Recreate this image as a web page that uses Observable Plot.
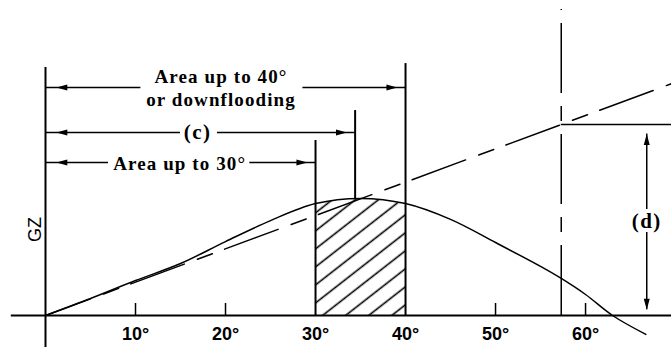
<!DOCTYPE html>
<html><head><meta charset="utf-8">
<script src="https://cdn.jsdelivr.net/npm/d3@7"></script>
<script src="https://cdn.jsdelivr.net/npm/@observablehq/plot@0.6"></script>
<style>
html,body{margin:0;padding:0;background:#fff;}
</style>
</head><body><div id="chart"></div>
<script>
// heel angle (degrees) and righting lever GZ (in units of GM)
const angles = [0, 5, 10, 15, 20, 25, 30, 35, 40, 45, 50, 55, 57.3, 60, 63, 66.7];
const gz     = [0, 0.089, 0.183, 0.272, 0.387, 0.497, 0.586, 0.613, 0.586, 0.503, 0.382, 0.257, 0.194, 0.110, 0, -0.099];
const tickValues = [10, 20, 30, 40, 50, 60];
const tickLabels = ["10°", "20°", "30°", "40°", "50°", "60°"];
const minorTicks = [10, 20, 50, 60];
const GM = 1.0;            // tangent at origin reaches GM at one radian
const radianDeg = 57.3;
const hatchFrom = 30, hatchTo = 40;
const peakAngle = 34.4;
const xMax = 69.55;

// dimension lines (angle span, level in GZ units, label, label centre, gap in line)
const dims = [
  {label: "Area up to 40°\nor downflooding", to: 40, level: 1.194, labelAt: 19.5, gap: [10.6, 28.6]},
  {label: "Area up to 30°", to: 30, level: 0.801, labelAt: 14.9, gap: [7.0, 22.7]}
];
const dimC = {label: "(c)", to: 34.4, level: 0.958, labelAt: 16.9, gap: [15.0, 19.1]};
const allDims = [...dims, dimC];

const curve = angles.map((a, i) => ({a, g: gz[i]}));
const hatch = curve.filter(d => d.a >= hatchFrom && d.a <= hatchTo);
const tangent = [{a: 0, g: 0}, {a: xMax, g: GM * xMax / radianDeg}];
const gzAt = (a) => { // value from curve table (neighbours, linear)
  for (let i = 1; i < curve.length; i++) if (curve[i].a >= a) {
    const p = curve[i-1], q = curve[i]; return p.g + (q.g - p.g) * (a - p.a) / (q.a - p.a);
  }
  return 0;
};

const segs = allDims.flatMap(d => [{x1: 0, x2: d.gap[0], y: d.level}, {x1: d.gap[1], x2: d.to, y: d.level}]);
const headsLeft = allDims.map(d => ({a: 1.2, g: d.level}));
const headsRight = allDims.map(d => ({a: d.to - 0.9, g: d.level}));
const dAngle = 66.8;

const head = {draw(ctx) { ctx.moveTo(0, 0); ctx.lineTo(-3, 11); ctx.lineTo(3, 11); ctx.closePath(); }};

const serif = "Liberation Serif, Times New Roman, serif";
const sans = "Liberation Sans, Arial, sans-serif";

const plot = Plot.plot({
  width: 671, height: 349,
  marginLeft: 45, marginRight: 0, marginTop: 0, marginBottom: 34,
  x: {domain: [0, xMax], axis: null},
  y: {domain: [0, 315 / 191], axis: null},
  style: {background: "#fff", color: "#000"},
  marks: [
    Plot.areaY(hatch, {x: "a", y: "g", fill: "url(#hatch)", curve: "catmull-rom"}),
    Plot.ruleY([0], {x1: -3.8, x2: xMax, strokeWidth: 2}),
    Plot.ruleX([0], {y1: -0.168, y2: 1.298, strokeWidth: 2}),
    Plot.ruleX(minorTicks, {y1: 0, y2: 0.063, strokeWidth: 1.5}),
    Plot.ruleX([hatchFrom], {y1: 0, y2: 0.916, strokeWidth: 2}),
    Plot.ruleX([hatchTo], {y1: 0, y2: 1.319, strokeWidth: 2}),
    Plot.ruleX([peakAngle], {y1: gzAt(peakAngle), y2: 1.073, strokeWidth: 2}),
    Plot.line(tangent, {x: "a", y: "g", strokeWidth: 1.5, strokeDasharray: "57,14,16,13", strokeDashoffset: 9}),
    Plot.line(curve, {x: "a", y: "g", strokeWidth: 1.5, curve: "catmull-rom"}),
    Plot.ruleX([radianDeg], {y1: 0, y2: 1.602, strokeWidth: 1.5, strokeDasharray: "70,13,15,13"}),
    Plot.ruleY([GM], {x1: radianDeg, x2: xMax, strokeWidth: 1.5}),
    Plot.ruleX([dAngle], {y1: 0.03, y2: GM - 0.05, strokeWidth: 1.5}),
    Plot.dot([{a: dAngle, g: GM - 0.05}], {x: "a", y: "g", symbol: head, fill: "#000", stroke: "none", rotate: 0}),
    Plot.dot([{a: dAngle, g: 0.03}], {x: "a", y: "g", symbol: head, fill: "#000", stroke: "none", rotate: 180}),
    Plot.ruleY(segs, {x1: "x1", x2: "x2", y: "y", strokeWidth: 1.5}),
    Plot.dot(headsLeft, {x: "a", y: "g", symbol: head, fill: "#000", stroke: "none", rotate: -90}),
    Plot.dot(headsRight, {x: "a", y: "g", symbol: head, fill: "#000", stroke: "none", rotate: 90}),
    Plot.text(dims, {x: "labelAt", y: "level", text: "label", fontFamily: serif, fontWeight: "bold", fontSize: 19, lineHeight: 1.16, fill: "#000"}),
    Plot.text([dimC], {x: "labelAt", y: "level", text: "label", fontFamily: serif, fontWeight: "bold", fontSize: 21, fill: "#000"}),
    Plot.text(["(d)"], {x: dAngle, y: 0.492, text: d => d, fontFamily: serif, fontWeight: "bold", fontSize: 21, fill: "#000", stroke: "#fff", strokeWidth: 8, paintOrder: "stroke"}),
    Plot.text(["GZ"], {x: 0, dx: -10.5, y: 0.45, text: d => d, rotate: -90, fontFamily: sans, fontSize: 18, fill: "#000"}),
    Plot.text(tickValues, {x: d => d, y: 0, dy: 18.5, text: (d, i) => tickLabels[i], fontFamily: sans, fontWeight: "bold", fontSize: 18, fill: "#000"})
  ]
});

const defs = d3.select(plot).insert("defs", ":first-child");
const pat = defs.append("pattern").attr("id", "hatch").attr("patternUnits", "userSpaceOnUse")
  .attr("width", 20).attr("height", 14.2).attr("patternTransform", "rotate(-38)");
pat.append("line").attr("x1", 0).attr("x2", 20).attr("y1", 7).attr("y2", 7)
  .attr("stroke", "#000").attr("stroke-width", 1.6);
d3.select(plot).selectAll("text")
  .filter(function() { return /Area|downflooding/.test(this.textContent); })
  .attr("letter-spacing", "1.1px").style("letter-spacing", "1.1px");
d3.select(plot).selectAll("text")
  .filter(function() { return /^\([cd]\)$/.test(this.textContent); })
  .attr("letter-spacing", "1.5px").style("letter-spacing", "1.5px");

document.getElementById("chart").appendChild(plot);
</script>
</body></html>
